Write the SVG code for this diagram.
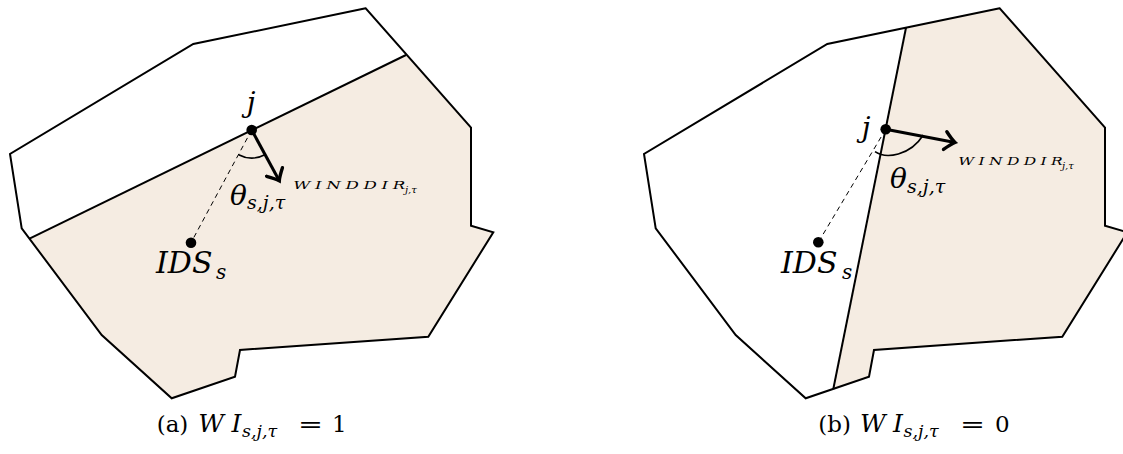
<svg xmlns="http://www.w3.org/2000/svg" width="1123" height="454" viewBox="0 0 1123 454">
<style>
.poly{fill:none;stroke:#000;stroke-width:2;stroke-linejoin:miter}
.shade{fill:#f5ece2;stroke:none}
.div{fill:none;stroke:#000;stroke-width:2}
.dash{fill:none;stroke:#000;stroke-width:1;stroke-dasharray:5,4}
.arr{fill:none;stroke:#000;stroke-width:3}
.arc{fill:none;stroke:#000;stroke-width:1.6}
.m{font-family:'DejaVu Serif',serif;font-style:italic;fill:#000}
.r{font-family:'DejaVu Serif',serif;fill:#000}
.w{font-family:'DejaVu Serif',serif;font-style:italic;fill:#000;font-size:11.5px;letter-spacing:3.2px}
.w tspan{letter-spacing:0}
</style>
<defs>
<marker id="tip" markerUnits="userSpaceOnUse" markerWidth="24" markerHeight="24" viewBox="-12 -12 24 24" refX="0" refY="0" orient="auto">
<path d="M-10,-9 Q-3.5,-2.2 0,0 Q-3.5,2.2 -10,9" fill="none" stroke="#000" stroke-width="3.4" stroke-linecap="round"/>
</marker>
</defs>
<g id="figA">
<g id="regionA">
<path class="shade" d="M406,55 L471,127.7 L471,225.7 L493.3,232.3 L428.3,336.7 L240,350 L235,376.7 L171.7,398.3 L101.7,335 L29.5,238.7 Z"/>
<path class="poly" d="M365.7,8.3 L193.3,44 L10,154 L21.7,228.3 L101.7,335 L171.7,398.3 L235,376.7 L240,350 L428.3,336.7 L493.3,232.3 L471,225.7 L471,127.7 Z"/>
<path class="div" d="M406,55 L29.5,238.7"/>
</g>
<g id="connectorsA">
<path class="dash" d="M251.7,130 L191,242.7"/>
<path class="arr" d="M251.7,130 L279.3,180.8" marker-end="url(#tip)"/>
<path class="arc" d="M238.6,154.7 A28,28 0 0 0 264.8,154.7"/>
</g>
<g id="jA">
<circle cx="251.7" cy="130" r="5.3"/>
<text class="m" x="251" y="112" font-size="28" text-anchor="middle">j</text>
</g>
<g id="idsA">
<circle cx="191" cy="242.7" r="5.3"/>
<text class="m" x="156" y="273" font-size="30">IDS</text>
<text class="m" x="216" y="278.5" font-size="20">s</text>
</g>
<g id="thetaA">
<text class="m" x="230" y="205" font-size="28">θ</text>
<text class="m" x="247" y="209" font-size="19">s,j,τ</text>
</g>
<g id="windA">
<text class="w" transform="translate(293.3,189) scale(1.45,1)">WINDDI<tspan>R</tspan></text>
<text class="m" x="405" y="192.5" font-size="10">j,τ</text>
</g>
<g id="capA">
<text class="r" x="156.7" y="431.5" font-size="23">(a)</text>
<text class="m" x="198.3" y="431.5" font-size="25" textLength="43" lengthAdjust="spacing">WI</text>
<text class="m" x="242" y="436.5" font-size="17.5">s,j,τ</text>
<text class="r" x="298" y="431.5" font-size="23" textLength="25" lengthAdjust="spacingAndGlyphs">=</text>
<text class="r" x="332" y="431.5" font-size="23">1</text>
</g>
</g>
<g id="figB">
<g id="regionB">
<path class="shade" d="M906,27.7 L999.7,8.3 L1105,127.7 L1105,225.7 L1127.3,232.3 L1062.3,336.7 L874,350 L869,376.7 L833.3,389 Z"/>
<path class="poly" d="M999.7,8.3 L827.3,44 L644,154 L655.7,228.3 L735.7,335 L805.7,398.3 L869,376.7 L874,350 L1062.3,336.7 L1127.3,232.3 L1105,225.7 L1105,127.7 Z"/>
<path class="div" d="M906,27.7 L833.3,389"/>
</g>
<g id="connectorsB">
<path class="dash" d="M885.7,129.3 L818.3,242.3"/>
<path class="arr" d="M885.7,129.3 L955,142.5" marker-end="url(#tip)"/>
<path class="arc" d="M875,151.7 C886,159 910,156 923.3,135"/>
</g>
<g id="jB">
<circle cx="885.7" cy="129.3" r="5.3"/>
<text class="m" x="866" y="137" font-size="28" text-anchor="middle">j</text>
</g>
<g id="idsB">
<circle cx="818.3" cy="242.3" r="5.3"/>
<text class="m" x="781" y="273" font-size="30">IDS</text>
<text class="m" x="842" y="278.5" font-size="20">s</text>
</g>
<g id="thetaB">
<text class="m" x="890" y="188" font-size="28">θ</text>
<text class="m" x="907" y="193" font-size="19">s,j,τ</text>
</g>
<g id="windB">
<text class="w" transform="translate(958.3,165) scale(1.35,1)">WINDDI<tspan>R</tspan></text>
<text class="m" x="1062" y="168.5" font-size="10">j,τ</text>
</g>
<g id="capB">
<text class="r" x="818.3" y="431.5" font-size="23">(b)</text>
<text class="m" x="860" y="431.5" font-size="25" textLength="43" lengthAdjust="spacing">WI</text>
<text class="m" x="903.5" y="436.5" font-size="17.5">s,j,τ</text>
<text class="r" x="960" y="431.5" font-size="23" textLength="25" lengthAdjust="spacingAndGlyphs">=</text>
<text class="r" x="995" y="431.5" font-size="23">0</text>
</g>
</g>
</svg>
